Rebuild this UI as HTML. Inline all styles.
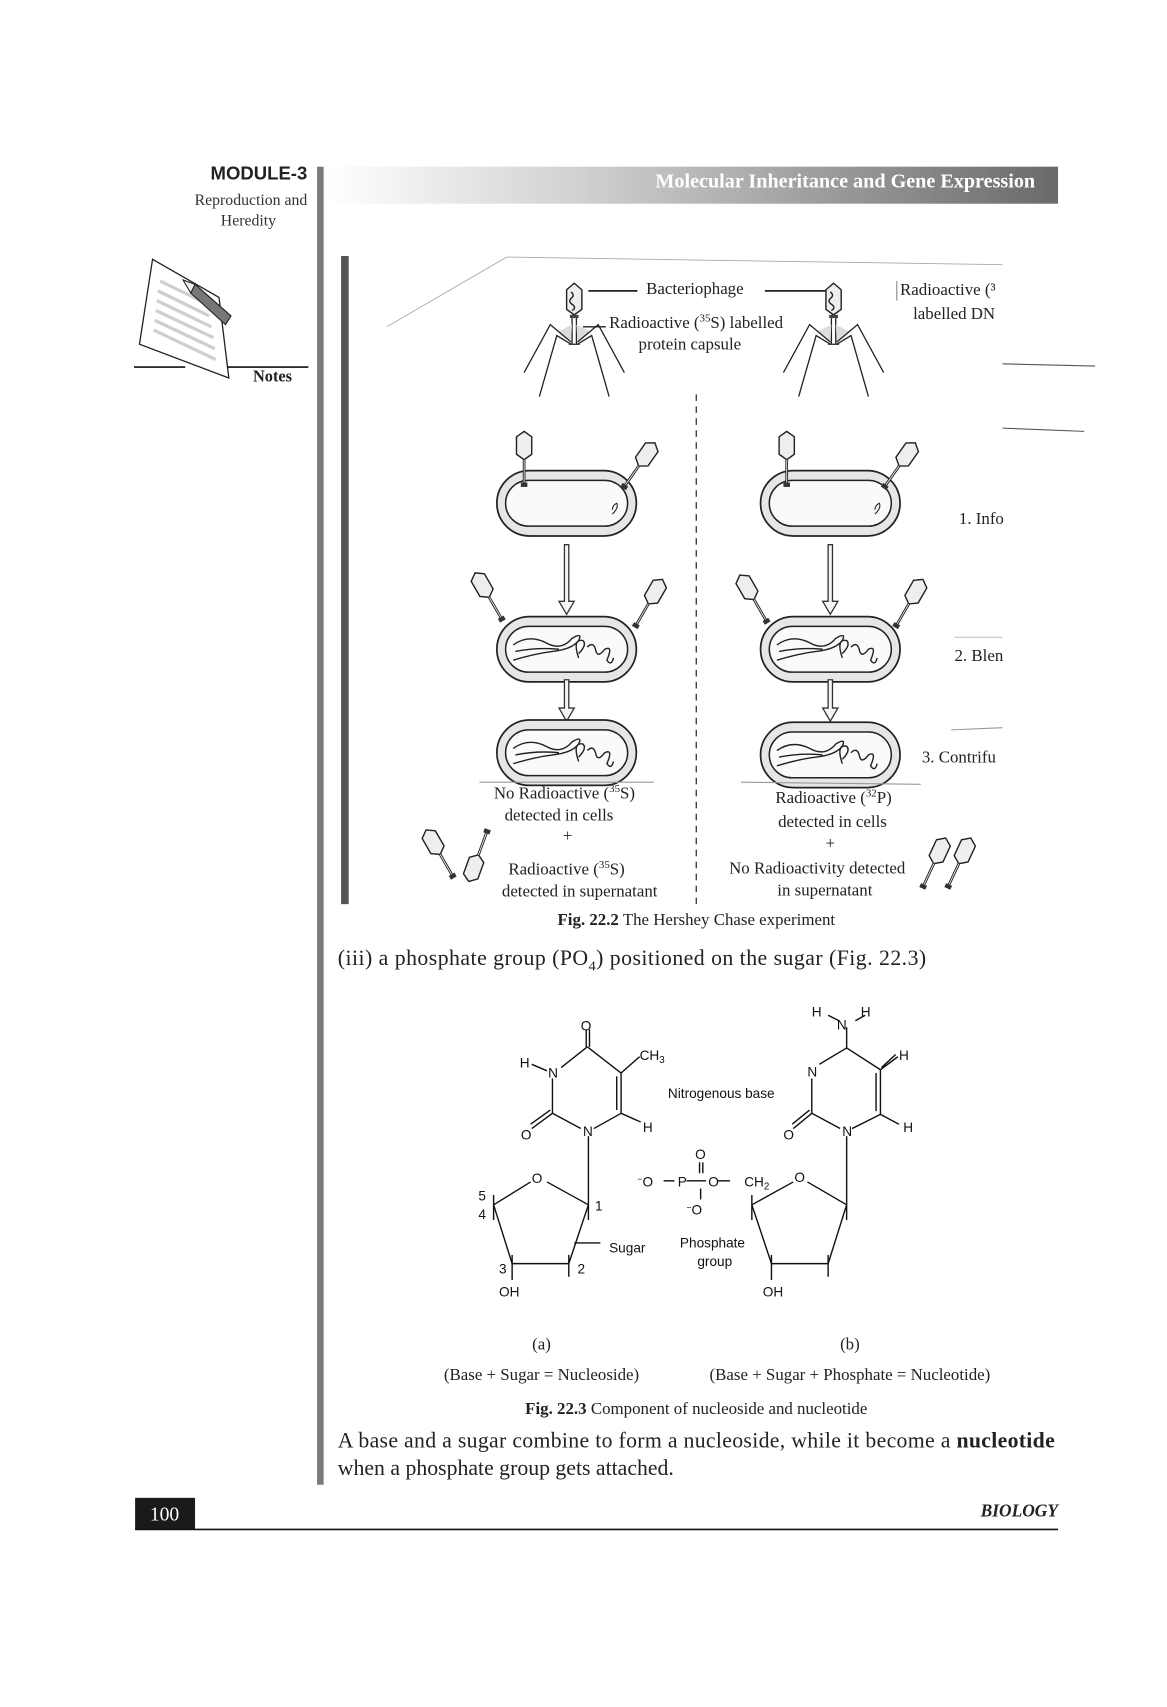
<!DOCTYPE html>
<html><head><meta charset="utf-8"><style>
html,body{margin:0;padding:0;background:#fff;}
svg{display:block;}
.s{font-family:"Liberation Serif",serif;}
.a{font-family:"Liberation Sans",sans-serif;}
</style></head><body>
<svg width="1167" height="1707" viewBox="0 0 1071 1567" preserveAspectRatio="none" xmlns="http://www.w3.org/2000/svg">
<defs>
<linearGradient id="hg" x1="0" x2="1" y1="0" y2="0">
<stop offset="0" stop-color="#ffffff"/><stop offset="0.35" stop-color="#d0d0d0"/><stop offset="1" stop-color="#6a6a6a"/>
</linearGradient>
<g id="ph">
<polygon points="0,-16 7,-10 7,8 0,13 -7,8 -7,-10" fill="#eee" stroke="#222" stroke-width="1.3"/>
<path d="M-3,-8 q4,3 0,6 q-3,3 2,6 q3,3 -1,5" fill="none" stroke="#222" stroke-width="1.3"/>
<rect x="-4" y="13" width="8" height="3" fill="#444"/>
<path d="M-2,16 V40 M2,16 V40" stroke="#222" stroke-width="1.2"/>
<polygon points="-2,22 -14,28 -3,38" fill="#ddd"/><polygon points="2,22 14,28 3,38" fill="#ddd"/>
<path d="M-3,38 L-22,22 L-46,66 M3,38 L22,22 L46,66 M-3,40 L-16,32 L-32,88 M3,40 L16,32 L32,88 M-5,40 H5" fill="none" stroke="#222" stroke-width="1.2"/>
</g>
<g id="sp">
<polygon points="0,-14 7,-9 7,7 0,12 -7,7 -7,-9" fill="#eee" stroke="#222" stroke-width="1.3"/>
<path d="M0,12 V34" stroke="#222" stroke-width="2.5"/>
<path d="M0,12 V34" stroke="#eee" stroke-width="0.8"/>
<rect x="-3" y="33" width="6" height="4" fill="#333"/>
</g>
<g id="cell">
<rect x="-64" y="-30" width="128" height="60" rx="30" fill="#e6e6e6" stroke="#222" stroke-width="1.6"/>
<rect x="-56" y="-21" width="112" height="42" rx="21" fill="#fafafa" stroke="#222" stroke-width="1.4"/>
</g>
<g id="dna">
<path d="M-44,-4 q14,-10 30,-2 q14,8 24,-4 q10,-6 6,2 q-6,8 -24,10 q-16,2 -36,8 M-42,2 q20,-4 40,-2" fill="none" stroke="#222" stroke-width="1.3"/>
<path d="M16,8 q-6,-18 4,-16 q4,4 -4,12 M24,-2 q6,-6 8,4 q2,6 8,-2 q8,-4 2,10 q4,6 6,-2" fill="none" stroke="#222" stroke-width="1.3"/>
</g>
<g id="arr">
<path d="M-2,0 V52 H-7 L0,64 L7,52 H2 V0 Z" fill="#f6f6f6" stroke="#333" stroke-width="1.2"/>
</g>
<g id="arr2">
<path d="M-2,0 V26 H-7 L0,38 L7,26 H2 V0 Z" fill="#f6f6f6" stroke="#333" stroke-width="1.2"/>
</g>
</defs>

<!-- left margin -->
<text x="282" y="165" text-anchor="end" class="a" font-size="17" font-weight="bold" fill="#222">MODULE-3</text>
<text x="282" y="188" text-anchor="end" class="s" font-size="14.5" fill="#333">Reproduction and</text>
<text x="228" y="207" text-anchor="middle" class="s" font-size="14.5" fill="#333">Heredity</text>
<!-- notes icon -->
<polygon points="140,238 201,273 210,347 128,316" fill="#fff" stroke="#222" stroke-width="1.2"/>
<g stroke="#cfcfcf" stroke-width="3">
<line x1="147" y1="258" x2="188" y2="278"/><line x1="145" y1="267" x2="192" y2="290"/><line x1="144" y1="276" x2="194" y2="300"/><line x1="143" y1="285" x2="196" y2="310"/><line x1="142" y1="294" x2="197" y2="320"/><line x1="141" y1="303" x2="198" y2="330"/>
</g>
<polygon points="179,261 212,290 207,298 175,269" fill="#777" stroke="#222" stroke-width="1"/>
<polygon points="168,257 179,261 175,269" fill="#eee" stroke="#222" stroke-width="1"/>
<line x1="123" y1="337" x2="170" y2="337" stroke="#111" stroke-width="1.5"/>
<line x1="209" y1="337" x2="283" y2="337" stroke="#111" stroke-width="1.5"/>
<text x="268" y="350" text-anchor="end" class="s" font-size="15" font-weight="bold" fill="#222">Notes</text>

<!-- gray vertical bar -->
<rect x="291" y="153" width="6" height="1210" fill="#7a7a7a"/>
<!-- header -->
<rect x="300" y="153" width="671" height="34" fill="url(#hg)"/>
<text x="950" y="172" text-anchor="end" class="s" font-size="18.5" font-weight="bold" fill="#fff">Molecular Inheritance and Gene Expression</text>

<!-- Figure 22.2 -->
<rect x="313" y="235" width="7" height="595" fill="#555"/>
<path d="M355,300 L465,236 L920,243" fill="none" stroke="#aaa" stroke-width="0.8"/>
<line x1="639" y1="362" x2="639" y2="830" stroke="#333" stroke-width="1.2" stroke-dasharray="6,5"/>
<use href="#ph" x="527" y="276"/>
<use href="#ph" x="765" y="276"/>
<line x1="540" y1="267" x2="585" y2="267" stroke="#222" stroke-width="1.6"/>
<line x1="702" y1="267" x2="758" y2="267" stroke="#222" stroke-width="1.6"/>
<line x1="535" y1="300" x2="556" y2="300" stroke="#222" stroke-width="1.2"/>
<text x="593" y="270" class="s" font-size="15.5" fill="#222">Bacteriophage</text>
<text x="559" y="301" class="s" font-size="15.5" fill="#222">Radioactive (<tspan font-size="10" dy="-6">35</tspan><tspan dy="6">S) labelled</tspan></text>
<text x="586" y="321" class="s" font-size="15.5" fill="#222">protein capsule</text>
<text x="826" y="271" class="s" font-size="15.5" fill="#222">Radioactive (³</text>
<text x="838" y="293" class="s" font-size="15.5" fill="#222">labelled DN</text>
<line x1="823" y1="258" x2="823" y2="276" stroke="#888"/>
<line x1="920" y1="334" x2="1005" y2="336" stroke="#555" stroke-width="1"/>
<line x1="920" y1="393" x2="995" y2="396" stroke="#555" stroke-width="1"/>
<rect x="920" y="230" width="160" height="100" fill="#fff"/>

<!-- row 1 -->
<use href="#cell" x="520" y="462"/>
<use href="#cell" x="762" y="462"/>
<use href="#sp" x="481" y="410"/>
<use href="#sp" x="722" y="410"/>
<use href="#sp" x="593" y="418" transform="rotate(35 593 418)"/>
<use href="#sp" x="832" y="418" transform="rotate(35 832 418)"/>
<path d="M562,472 q6,-6 4,-10 q-4,2 -4,6" fill="none" stroke="#222"/>
<path d="M803,472 q6,-6 4,-10 q-4,2 -4,6" fill="none" stroke="#222"/>
<use href="#arr" x="520" y="500"/>
<use href="#arr" x="762" y="500"/>
<!-- row 2 -->
<use href="#cell" x="520" y="596"/>
<use href="#cell" x="762" y="596"/>
<use href="#dna" x="515" y="596"/>
<use href="#dna" x="757" y="596"/>
<use href="#sp" x="443" y="538" transform="rotate(-30 443 538)"/>
<use href="#sp" x="601" y="544" transform="rotate(30 601 544)"/>
<use href="#sp" x="686" y="540" transform="rotate(-30 686 540)"/>
<use href="#sp" x="840" y="544" transform="rotate(30 840 544)"/>
<use href="#arr2" x="520" y="624"/>
<use href="#arr2" x="762" y="624"/>
<!-- row 3 -->
<use href="#cell" x="520" y="691"/>
<use href="#cell" x="762" y="693"/>
<use href="#dna" x="515" y="691"/>
<use href="#dna" x="757" y="693"/>
<text x="880" y="481" class="s" font-size="15.5" fill="#222">1. Info</text>
<text x="876" y="607" class="s" font-size="15.5" fill="#222">2. Blen</text>
<text x="846" y="700" class="s" font-size="15.5" fill="#222">3. Contrifu</text>
<rect x="921" y="440" width="160" height="290" fill="#fff"/>
<line x1="873" y1="670" x2="920" y2="668" stroke="#999"/>
<line x1="876" y1="585" x2="920" y2="585" stroke="#bbb"/>

<text x="518" y="733" text-anchor="middle" class="s" font-size="15.5" fill="#222">No Radioactive (<tspan font-size="10" dy="-6">35</tspan><tspan dy="6">S)</tspan></text>
<text x="513" y="753" text-anchor="middle" class="s" font-size="15.5" fill="#222">detected in cells</text>
<text x="521" y="772" text-anchor="middle" class="s" font-size="15.5" fill="#222">+</text>
<text x="520" y="803" text-anchor="middle" class="s" font-size="15.5" fill="#222">Radioactive (<tspan font-size="10" dy="-6">35</tspan><tspan dy="6">S)</tspan></text>
<text x="532" y="823" text-anchor="middle" class="s" font-size="15.5" fill="#222">detected in supernatant</text>
<text x="765" y="737" text-anchor="middle" class="s" font-size="15.5" fill="#222">Radioactive (<tspan font-size="10" dy="-6">32</tspan><tspan dy="6">P)</tspan></text>
<text x="764" y="759" text-anchor="middle" class="s" font-size="15.5" fill="#222">detected in cells</text>
<text x="762" y="779" text-anchor="middle" class="s" font-size="15.5" fill="#222">+</text>
<text x="750" y="802" text-anchor="middle" class="s" font-size="15.5" fill="#222">No Radioactivity detected</text>
<text x="757" y="822" text-anchor="middle" class="s" font-size="15.5" fill="#222">in supernatant</text>
<line x1="440" y1="718" x2="600" y2="718" stroke="#999"/>
<line x1="680" y1="718" x2="845" y2="720" stroke="#999"/>
<use href="#sp" x="398" y="774" transform="rotate(-30 398 774)"/>
<use href="#sp" x="435" y="796" transform="rotate(200 435 796)"/>
<use href="#sp" x="862" y="782" transform="rotate(25 862 782)"/>
<use href="#sp" x="885" y="782" transform="rotate(25 885 782)"/>

<text x="639" y="849" text-anchor="middle" class="s" font-size="15.5" fill="#222"><tspan font-weight="bold">Fig. 22.2</tspan> The  Hershey Chase experiment</text>

<text x="310" y="886" class="s" font-size="20" fill="#222" textLength="540" lengthAdjust="spacing">(iii)  a phosphate group (PO<tspan font-size="13" dy="5">4</tspan><tspan dy="-5">) positioned on the sugar (Fig. 22.3)</tspan></text>

<!-- Chemistry -->
<g stroke="#111" stroke-width="1.3" fill="none">
<line x1="538" y1="945" x2="538" y2="961"/><line x1="541" y1="945" x2="541" y2="961"/>
<line x1="539" y1="961" x2="570" y2="985"/><line x1="570" y1="985" x2="587" y2="970"/>
<line x1="570" y1="985" x2="570" y2="1022"/><line x1="566" y1="988" x2="566" y2="1019"/>
<line x1="570" y1="1022" x2="588" y2="1030"/>
<line x1="570" y1="1022" x2="545" y2="1036"/>
<line x1="539" y1="961" x2="515" y2="980"/>
<line x1="488" y1="977" x2="502" y2="983"/>
<line x1="507" y1="990" x2="507" y2="1022"/>
<line x1="507" y1="1022" x2="533" y2="1036"/>
<line x1="507" y1="1022" x2="488" y2="1036"/><line x1="505" y1="1019" x2="487" y2="1032"/>
<line x1="540" y1="1043" x2="540" y2="1120"/>
<line x1="487" y1="1085" x2="453" y2="1106"/>
<line x1="502" y1="1085" x2="540" y2="1106"/>
<line x1="540" y1="1106" x2="522" y2="1160"/>
<line x1="522" y1="1160" x2="470" y2="1160"/>
<line x1="470" y1="1160" x2="453" y2="1106"/>
<line x1="453" y1="1097" x2="453" y2="1120"/>
<line x1="470" y1="1152" x2="470" y2="1175"/>
<line x1="522" y1="1152" x2="522" y2="1172"/>
<line x1="527" y1="1141" x2="551" y2="1141"/>
<line x1="609" y1="1084" x2="619" y2="1084"/>
<line x1="630" y1="1084" x2="648" y2="1084"/>
<line x1="659" y1="1084" x2="670" y2="1084"/>
<line x1="642" y1="1067" x2="642" y2="1077"/><line x1="645" y1="1067" x2="645" y2="1077"/>
<line x1="643" y1="1091" x2="643" y2="1101"/>
<line x1="777" y1="943" x2="777" y2="962"/>
<line x1="760" y1="932" x2="770" y2="937"/><line x1="785" y1="937" x2="794" y2="932"/>
<line x1="777" y1="962" x2="808" y2="982"/><line x1="808" y1="982" x2="824" y2="970"/><line x1="809" y1="980" x2="822" y2="968"/>
<line x1="808" y1="982" x2="808" y2="1023"/><line x1="804" y1="985" x2="804" y2="1020"/>
<line x1="808" y1="1023" x2="825" y2="1032"/>
<line x1="808" y1="1023" x2="782" y2="1036"/>
<line x1="777" y1="962" x2="752" y2="977"/>
<line x1="745" y1="990" x2="745" y2="1022"/>
<line x1="745" y1="1022" x2="771" y2="1036"/>
<line x1="745" y1="1022" x2="728" y2="1036"/><line x1="743" y1="1019" x2="727" y2="1032"/>
<line x1="777" y1="1043" x2="777" y2="1120"/>
<line x1="728" y1="1085" x2="690" y2="1106"/>
<line x1="741" y1="1085" x2="777" y2="1106"/>
<line x1="777" y1="1106" x2="760" y2="1160"/>
<line x1="760" y1="1160" x2="708" y2="1160"/>
<line x1="708" y1="1160" x2="690" y2="1106"/>
<line x1="690" y1="1097" x2="690" y2="1120"/>
<line x1="708" y1="1152" x2="708" y2="1175"/>
<line x1="760" y1="1152" x2="760" y2="1172"/>
</g>
<g class="a" font-size="12.5" fill="#111">
<text x="533" y="946">O</text>
<text x="477" y="980">H</text><text x="503" y="989">N</text>
<text x="587" y="973">CH<tspan font-size="9" dy="3">3</tspan></text>
<text x="478" y="1046">O</text>
<text x="535" y="1043">N</text>
<text x="590" y="1039">H</text>
<text x="488" y="1086">O</text>
<text x="439" y="1102">5</text><text x="439" y="1119">4</text>
<text x="546" y="1111">1</text>
<text x="559" y="1150">Sugar</text>
<text x="458" y="1169">3</text><text x="530" y="1169">2</text>
<text x="458" y="1190">OH</text>
<text x="613" y="1008">Nitrogenous base</text>
<text x="638" y="1064">O</text>
<text x="585" y="1089"><tspan font-size="8" dy="-4">−</tspan><tspan dy="4">O</tspan></text>
<text x="622" y="1089">P</text>
<text x="650" y="1089">O</text>
<text x="683" y="1089">CH<tspan font-size="9" dy="3">2</tspan></text>
<text x="630" y="1115"><tspan font-size="8" dy="-4">−</tspan><tspan dy="4">O</tspan></text>
<text x="624" y="1145">Phosphate</text>
<text x="640" y="1162">group</text>
<text x="745" y="933">H</text><text x="768" y="945">N</text><text x="790" y="933">H</text>
<text x="825" y="973">H</text>
<text x="741" y="988">N</text>
<text x="719" y="1046">O</text>
<text x="773" y="1043">N</text>
<text x="829" y="1039">H</text>
<text x="729" y="1085">O</text>
<text x="700" y="1190">OH</text>
</g>
<g class="s" font-size="15.5" fill="#222">
<text x="497" y="1239" text-anchor="middle">(a)</text>
<text x="780" y="1239" text-anchor="middle">(b)</text>
<text x="497" y="1267" text-anchor="middle">(Base + Sugar = Nucleoside)</text>
<text x="780" y="1267" text-anchor="middle">(Base + Sugar + Phosphate = Nucleotide)</text>
<text x="639" y="1298" text-anchor="middle"><tspan font-weight="bold">Fig. 22.3</tspan> Component of nucleoside and nucleotide</text>
</g>
<g class="s" font-size="20" fill="#222">
<text x="310" y="1329" textLength="658" lengthAdjust="spacing">A base and a sugar combine to form a nucleoside, while it become a <tspan font-weight="bold">nucleotide</tspan></text>
<text x="310" y="1354">when a phosphate group gets attached.</text>
</g>

<!-- footer -->
<rect x="124" y="1375" width="55" height="29" fill="#1a1a1a"/>
<text x="151" y="1396" text-anchor="middle" class="s" font-size="18" fill="#fff">100</text>
<line x1="124" y1="1404" x2="971" y2="1404" stroke="#111" stroke-width="1.5"/>
<text x="971" y="1392" text-anchor="end" class="s" font-size="16" font-weight="bold" font-style="italic" fill="#222">BIOLOGY</text>
</svg>
</body></html>
